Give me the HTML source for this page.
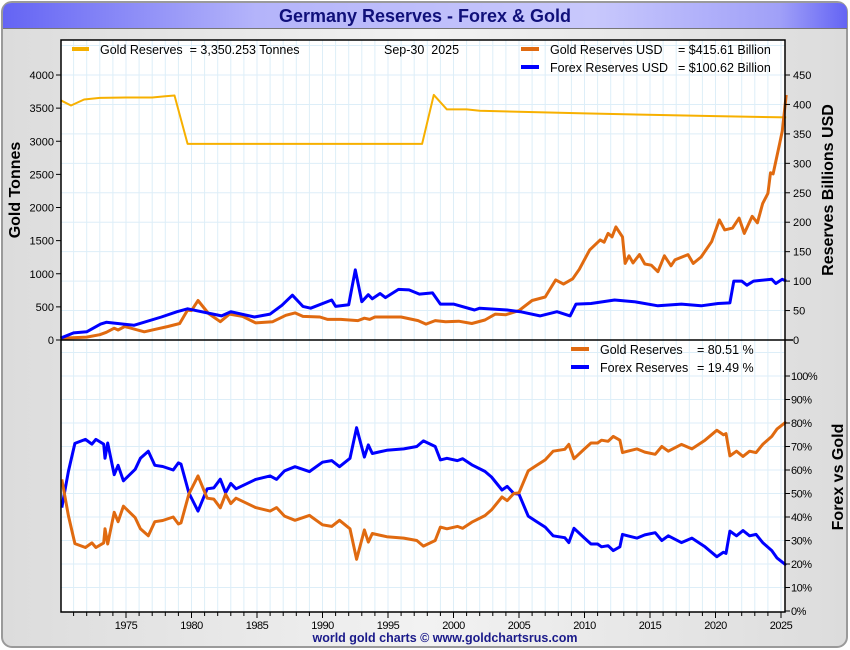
<!DOCTYPE html>
<html><head><meta charset="utf-8"><style>
html,body{margin:0;padding:0;background:#fff;}
svg{display:block;font-family:"Liberation Sans",sans-serif;}
text{white-space:pre;}
</style></head><body>
<svg id="chart" width="850" height="650" viewBox="0 0 850 650">
<defs>
<linearGradient id="tb" x1="0" x2="1" y1="0" y2="0">
<stop offset="0" stop-color="#6464f4"/><stop offset="0.3" stop-color="#b4b4fa"/><stop offset="0.7" stop-color="#c8c8fc"/><stop offset="0.92" stop-color="#a0a0f8"/><stop offset="1" stop-color="#6464f4"/>
</linearGradient>
<linearGradient id="bg" x1="0" x2="1" y1="0" y2="0">
<stop offset="0" stop-color="#dcdcdc"/><stop offset="0.5" stop-color="#f2f2f2"/><stop offset="1" stop-color="#dcdcdc"/>
</linearGradient>
</defs>
<rect x="2" y="2" width="845" height="645" rx="10" fill="url(#bg)" stroke="#9a9a9a" stroke-width="2"/>
<path d="M3,28 L3,12 Q3,3 12,3 L838,3 Q847,3 847,12 L847,28 Z" fill="url(#tb)"/>
<line x1="3" y1="28.5" x2="847" y2="28.5" stroke="#777" stroke-width="1"/>
<text x="425" y="22" text-anchor="middle" font-size="18" font-weight="bold" fill="#10107a">Germany Reserves - Forex &amp; Gold</text>
<rect x="61" y="40" width="724" height="572" fill="#fff"/>
<g id="grid"></g>
<g id="series"></g>
<g id="axes"></g>
<g id="legend">
<line x1="72" y1="49" x2="89" y2="49" stroke="#f5b000" stroke-width="4"/>
<text x="100" y="54" font-size="12.5">Gold Reserves  = 3,350.253 Tonnes</text>
<text x="384" y="54" font-size="12.5">Sep-30  2025</text>
<line x1="521" y1="49" x2="539" y2="49" stroke="#e06a10" stroke-width="4"/>
<text x="550" y="54" font-size="12.5">Gold Reserves USD</text>
<text x="678" y="54" font-size="12.5">= $415.61 Billion</text>
<line x1="521" y1="67" x2="539" y2="67" stroke="#0000ff" stroke-width="4"/>
<text x="550" y="72" font-size="12.5">Forex Reserves USD</text>
<text x="678" y="72" font-size="12.5">= $100.62 Billion</text>
<line x1="571" y1="349" x2="589" y2="349" stroke="#e06a10" stroke-width="4"/>
<text x="600" y="354" font-size="12.5">Gold Reserves</text>
<text x="697" y="354" font-size="12.5">= 80.51 %</text>
<line x1="571" y1="367" x2="589" y2="367" stroke="#0000ff" stroke-width="4"/>
<text x="600" y="372" font-size="12.5">Forex Reserves</text>
<text x="697" y="372" font-size="12.5">= 19.49 %</text>
</g>
<text transform="translate(20,190) rotate(-90)" text-anchor="middle" font-size="16" font-weight="bold">Gold Tonnes</text>
<text transform="translate(833,190) rotate(-90)" text-anchor="middle" font-size="16" font-weight="bold">Reserves Billions USD</text>
<text transform="translate(843,477) rotate(-90)" text-anchor="middle" font-size="16" font-weight="bold">Forex vs Gold</text>
<text x="445" y="642" text-anchor="middle" font-size="12.5" font-weight="bold" fill="#1a1a8a">world gold charts © www.goldchartsrus.com</text>
</svg>
<script>
const tonYears=[1970,1970.8,1971.8,1973,1975,1977,1978,1978.7,1979.7,1997.6,1998.5,1999.5,2001,2002,2010,2020,2025.4];
const tonValues=[3620,3540,3630,3655,3660,3660,3680,3690,2960,2960,3700,3480,3480,3460,3420,3380,3360];
const goldUsdYears=[1970,1972,1973,1973.5,1974.1,1974.4,1974.9,1976.4,1977.2,1978.2,1979.1,1979.7,1980,1980.5,1981.3,1982.2,1982.9,1983.9,1984.9,1986.2,1987.2,1987.9,1988.5,1989.8,1990.4,1991.4,1992.7,1993.2,1993.6,1994,1996,1997.3,1997.9,1998.6,1999.4,2000.4,2001.4,2002.4,2003.2,2004,2005,2006,2007,2007.8,2008.4,2009.1,2009.6,2010.4,2011.2,2011.5,2011.8,2012.1,2012.4,2012.9,2013.1,2013.4,2013.7,2014.2,2014.6,2015.1,2015.6,2016.1,2016.6,2016.9,2017.9,2018.3,2018.9,2019.7,2020.3,2020.7,2021.3,2021.8,2022.2,2022.8,2023.2,2023.6,2024,2024.2,2024.4,2024.9,2025.1,2025.4];
const goldUsdValues=[3,5,9,13,20,17,23,14,18,23,28,51,50,67,45,31,44,40,29,31,42,46,40,39,35,35,33,37,35,39,39,33,27,33,31,32,28,34,44,43,50,67,73,102,95,104,120,153,170,166,181,175,192,175,130,143,131,145,129,127,116,143,126,136,145,130,141,167,204,187,190,207,181,210,199,232,249,284,282,334,355,416];
const forexYears=[1970,1971,1972,1973.06,1973.5,1975.6,1977.7,1978.9,1979.7,1982.3,1983,1984.8,1986,1986.9,1987.7,1988.5,1989.1,1990.7,1991,1992,1992.5,1993,1993.5,1993.8,1994.4,1994.8,1995.8,1996.6,1997.4,1998.4,1999,2000,2001.6,2002,2004.1,2005.1,2006.6,2007.9,2008.9,2009.35,2010.5,2012.3,2013.8,2015.6,2017.4,2018.9,2020.2,2021.1,2021.4,2022,2022.4,2022.9,2024.3,2024.6,2025.1,2025.4];
const forexValues=[3,12,14,27,30,25,39,48,53,41,48,39,44,59,76,57,54,68,57,60,119,65,77,70,79,72,86,85,78,80,61,61,51,54,51,48,41,48,41,61,62,68,65,58,61,58,62,63,100,100,93,100,103,96,103,100];
const pctYears=[1970.1,1970.6,1971.1,1971.9,1972.4,1972.7,1973.3,1973.4,1973.6,1974.1,1974.4,1974.8,1975.7,1976.1,1976.7,1977.2,1977.8,1978.6,1979,1979.2,1979.8,1980.5,1981.2,1981.7,1982.2,1982.6,1983,1983.4,1984.9,1986,1986.5,1987.1,1987.9,1989,1990,1990.7,1991.3,1992.1,1992.6,1993.2,1993.5,1993.8,1994.9,1996.2,1997.2,1997.7,1998.6,1999,1999.5,2000.3,2000.7,2001.4,2002.4,2002.9,2003.7,2004.1,2004.6,2005,2005.7,2006.3,2007,2007.6,2008.5,2008.8,2009.2,2010,2010.5,2011,2011.3,2011.8,2012.2,2012.7,2012.9,2013.3,2014,2014.6,2015.4,2015.9,2016.4,2017.4,2018.2,2019.2,2020.1,2020.6,2020.8,2021.1,2021.6,2022.1,2022.6,2023.1,2023.6,2024.3,2024.7,2025.4];
const goldPctValues=[56,40.6,28.7,27,29,27,29,35,28.5,42,38,44.6,39.7,35,32,38,38.5,40,37,37.5,49.8,57.5,48,47.6,43.9,49.7,45.7,48,44,42.5,44,40.4,38.6,40.7,36.7,36,38.6,35,22,34.5,29.3,33,31.6,31,30,27.6,30,35.7,35,36,35.2,37.8,40.6,43,48.5,47,50,50.3,59.6,61.8,64.3,68,68.8,70.9,64.8,69,71.5,71.5,72.7,72.2,74.3,72.7,67.4,68,69,67.6,66.7,70,68,70.9,69,72.7,76.9,75,75.5,66,68,65.8,68,67.4,70.9,74.3,77.5,80.51];
const xTickLabels=['1975','1980','1985','1990','1995','2000','2005','2010','2015','2020','2025'];
const leftTickLabels=['0','500','1000','1500','2000','2500','3000','3500','4000'];
const rightTickLabels=['0','50','100','150','200','250','300','350','400','450'];
const pctTickLabels=['0%','10%','20%','30%','40%','50%','60%','70%','80%','90%','100%'];

const NS='http://www.w3.org/2000/svg';
const X0=61,X1=785,YT=40,YM=340,YB=612;
const xs=y=>60.5+(y-1970)*13.1;
const yTon=v=>340-v*(265/4000);
const yUsd=v=>340-v*(265/450);
const yPct=p=>611-p*2.35;
function mk(tag,attrs,parent){const e=document.createElementNS(NS,tag);for(const k in attrs)e.setAttribute(k,attrs[k]);parent.appendChild(e);return e;}
const grid=document.getElementById('grid'),axes=document.getElementById('axes'),series=document.getElementById('series');
for(let yr=1971;yr<=2025;yr++){const x=xs(yr);if(x>X0&&x<X1){
 const l=mk('line',{x1:x,x2:x,y1:YT,y2:YB,stroke:'#ddeef8','stroke-width':1},grid);
 
 }}
for(let v=50;v<=500;v+=50){const y=yUsd(v);if(y>YT){
 const l=mk('line',{x1:X0,x2:X1,y1:y,y2:y,stroke:'#ddeef8','stroke-width':1},grid);
 
 }}
for(let p=10;p<=110;p+=10){const y=yPct(p);if(y>YM){
 const l=mk('line',{x1:X0,x2:X1,y1:y,y2:y,stroke:'#ddeef8','stroke-width':1},grid);
 
 }}
function pl(xsArr,vals,fy,color,w,name){
 const pts=xsArr.map((t,i)=>xs(t).toFixed(1)+','+fy(vals[i]).toFixed(1)).join(' ');
 const p=mk('polyline',{points:pts,fill:'none',stroke:color,'stroke-width':w,'stroke-linejoin':'round'},series);
 
 
}
pl(tonYears,tonValues,yTon,'#f7b000',2,'gold-tonnes-line');
pl(goldUsdYears,goldUsdValues,yUsd,'#e06a10',3,'gold-usd-line');
pl(forexYears,forexValues,yUsd,'#0000ff',3,'forex-usd-line');
pl(pctYears,goldPctValues.map(v=>100-v),yPct,'#0000ff',3,'forex-pct-line');
pl(pctYears,goldPctValues,yPct,'#e06a10',3,'gold-pct-line');
mk('rect',{x:X0,y:YT,width:X1-X0,height:YB-YT,fill:'none',stroke:'#000','stroke-width':1.5},axes);
mk('line',{x1:X0,x2:X1+8,y1:YM,y2:YM,stroke:'#000','stroke-width':1.5},axes);
leftTickLabels.forEach((s,i)=>{const v=i*500,y=yTon(v);
 mk('line',{x1:X0-5,x2:X0,y1:y,y2:y,stroke:'#000'},axes);
 const t=mk('text',{x:X0-7,y:y+4,'text-anchor':'end','font-size':11},axes);t.textContent=s;
 
 });
rightTickLabels.forEach((s,i)=>{const v=i*50,y=yUsd(v);
 mk('line',{x1:X1,x2:X1+5,y1:y,y2:y,stroke:'#000'},axes);
 const t=mk('text',{x:X1+8,y:y+4,'font-size':11},axes);t.textContent=s;
 
 });
pctTickLabels.forEach((s,i)=>{const p=i*10,y=yPct(p);
 mk('line',{x1:X1,x2:X1+5,y1:y,y2:y,stroke:'#000'},axes);
 const t=mk('text',{x:X1+6,y:y+4,'font-size':11,'letter-spacing':'-0.5'},axes);t.textContent=s;
 
 });
for(let yr=1971;yr<=2025;yr++){const x=xs(yr);
 mk('line',{x1:x,x2:x,y1:YB,y2:YB+(yr%5===0?6:4),stroke:'#000'},axes);}
xTickLabels.forEach(s=>{const x=xs(+s);
 const t=mk('text',{x:x,y:YB+17,'text-anchor':'middle','font-size':11,'letter-spacing':'-0.5'},axes);t.textContent=s;
 
 });
</script>
</body></html>
